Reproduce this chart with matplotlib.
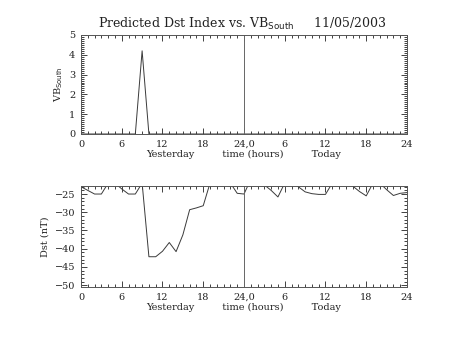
#!/usr/bin/env python3
"""
plot.py: Predicted Dst index and southward VB over yesterday and today.
"""
import numpy as np
import matplotlib
matplotlib.use('Agg')
import matplotlib.pyplot as plt
from matplotlib.ticker import MultipleLocator

# Hourly samples, hour 0 of yesterday through hour 24 of today
hours = list(range(49))

vb_south = [0, 0, 0, 0, 0, 0, 0, 0, 0, 4.2,
            0, 0, 0, 0, 0, 0, 0, 0, 0, 0,
            0, 0, 0, 0, 0, 0, 0, 0, 0, 0,
            0, 0, 0, 0, 0, 0, 0, 0, 0, 0,
            0, 0, 0, 0, 0, 0, 0, 0, 0]

dst = [-23.0, -24.0, -25.0, -25.0, -22.0, -22.0, -23.6, -25.0, -25.0, -22.0,
       -42.2, -42.2, -40.7, -38.3, -40.8, -36.2, -29.3, -28.8, -28.2, -22.0,
       -22.0, -22.0, -22.0, -24.8, -25.0, -21.0, -22.0, -22.5, -24.0, -25.8,
       -22.0, -22.0, -23.0, -24.4, -24.9, -25.1, -25.1, -22.0, -22.0, -22.0,
       -22.8, -24.3, -25.5, -22.0, -22.0, -23.8, -25.4, -24.8, -24.6]

xtick_pos = [0, 6, 12, 18, 24, 30, 36, 42, 48]
xtick_labels = ['0', '6', '12', '18', '24,0', '6', '12', '18', '24']

plt.rcParams['font.family'] = ['DejaVu Serif']
plt.rcParams['font.size'] = 7
fg = '#222222'
line_c = '#3a3a3a'

fig = plt.figure(figsize=(4.53, 3.40), dpi=100)
ax1 = fig.add_axes([0.1788, 0.6059, 0.7196, 0.2912])
ax2 = fig.add_axes([0.1788, 0.1559, 0.7196, 0.2970])


def style_axis(ax, ymajor, yminor):
    ax.set_xlim(0, 48)
    ax.set_xticks(xtick_pos)
    ax.set_xticklabels(xtick_labels)
    ax.xaxis.set_minor_locator(MultipleLocator(1))
    ax.yaxis.set_major_locator(MultipleLocator(ymajor))
    ax.yaxis.set_minor_locator(MultipleLocator(yminor))
    ax.tick_params(which='both', direction='in', top=True, right=True,
                   color=fg, labelcolor=fg, width=0.6, pad=4)
    ax.tick_params(which='major', length=4)
    ax.tick_params(which='minor', length=2)
    for sp in ax.spines.values():
        sp.set_color('#555555')
        sp.set_linewidth(0.7)
    ax.axvline(24, color='#666666', lw=0.7)
    ax.set_xlabel('Yesterday         time (hours)         Today',
                  color=fg, labelpad=1)


# Top panel: VB south
ax1.plot(hours, vb_south, color=line_c, lw=0.7)
ax1.set_ylim(0, 5)
style_axis(ax1, 1, 0.1)
ax1.set_ylabel(r'VB$_{\mathrm{South}}$', color=fg, labelpad=3)

# Bottom panel: Dst
ax2.plot(hours, dst, color=line_c, lw=0.7)
ax2.set_ylim(-50.5, -22.8)
style_axis(ax2, 5, 1)
ax2.set_ylabel('Dst (nT)', color=fg, labelpad=4)

fig.text(0.534, 0.93, r'Predicted Dst Index vs. VB$_{\mathrm{South}}$     11/05/2003',
         ha='center', va='center', fontsize=9, color=fg)

fig.savefig('out.png', dpi=100)
